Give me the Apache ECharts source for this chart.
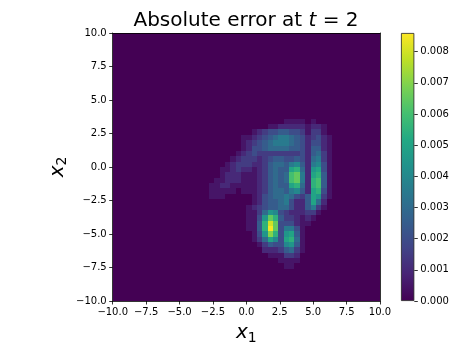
<!DOCTYPE html>
<html>
<head>
<meta charset="utf-8">
<script src="https://cdn.jsdelivr.net/npm/echarts@6/dist/echarts.min.js"></script>
<style>
  html, body { margin: 0; padding: 0; background: #fff; }
  #chart { width: 473px; height: 355px; }
</style>
</head>
<body>
<div id="chart"></div>
<script>
// tick labels
const axisTicks = [-10, -7.5, -5, -2.5, 0, 2.5, 5, 7.5, 10];
const colorbarTicks = [0, 0.001, 0.002, 0.003, 0.004, 0.005, 0.006, 0.007, 0.008];
const errorMax = 0.0086;

// the field is a 50x50 grid of 0.4 cells on [-10,10]^2, zero everywhere
// except the patch below
const cellSize = 0.4;
const domainMin = -10;
const cellsPerSide = 50;
const patchLeft = -3.2;   // left edge of first patch column
const patchTop = 3.6;     // top edge of first patch row
const levelStep = 0.0005; // one level = 0.0005
const levels = '0123456789abcdefgh';
const patchRows = [
  '0000000000000001111010000',
  '0000000000001122222122100',
  '0000000001234455443133100',
  '0000000112345677654234210',
  '0000000123456777654244210',
  '0000000124456666554255210',
  '0000001234333333334256310',
  '0000012333234554454267310',
  '0000123332235665785278410',
  '0001123221235655ab629a410',
  '0001222111235656cd72ab510',
  '0011222111235656cd72bc510',
  '0112211111235655ab62bc510',
  '01111101112356657852ab410',
  '01110000012456676435a9310',
  '00000000012455674225a6200',
  '0000000012345566422573100',
  '0000000011369843222331000',
  '000000001149db53321210000',
  '00000000115bgd44421100000',
  '00000000115bhd47741000000',
  '000000000149eb49a51000000',
  '000000000136a84ab61000000',
  '0000000000135448951000000',
  '0000000000022235631000000',
  '0000000000001113320000000',
  '0000000000000011110000000',
  '0000000000000001100000000'
];

const viridis = ['#440154', '#482475', '#414487', '#355f8d', '#2a788e', '#21918c',
  '#22a884', '#44bf70', '#7ad151', '#bddf26', '#fde725'];

const cells = [];
for (let i = 0; i < cellsPerSide; i++) {
  for (let j = 0; j < cellsPerSide; j++) {
    const x0 = domainMin + i * cellSize;
    const y0 = domainMin + j * cellSize;
    const col = Math.round((x0 - patchLeft) / cellSize);
    const row = Math.round((patchTop - cellSize - y0) / cellSize);
    let v = 0;
    if (row >= 0 && row < patchRows.length && col >= 0 && col < patchRows[row].length) {
      v = levels.indexOf(patchRows[row][col]) * levelStep;
    }
    cells.push([x0, y0, v]);
  }
}

const font = 'DejaVu Sans';
const minus = v => String(v).replace('-', '\u2212');
const lineStyle = { color: '#000', width: 0.8 };
const nameRich = {
  v: { fontSize: 20, fontStyle: 'italic', fontFamily: font, color: '#000' },
  s: { fontSize: 14, fontFamily: font, color: '#000', padding: [10, 0, 0, 0] }
};

const chart = echarts.init(document.getElementById('chart'));
chart.setOption({
  animation: false,
  title: {
    text: '{a|Absolute error at }{i|t}{a| = 2}',
    left: 241,
    top: 6,
    textAlign: 'center',
    textStyle: {
      fontWeight: 'normal',
      rich: {
        a: { fontSize: 20, fontFamily: font, fontWeight: 'normal', color: '#000' },
        i: { fontSize: 20, fontFamily: font, fontWeight: 'normal', fontStyle: 'italic', color: '#000' }
      }
    }
  },
  grid: [
    { left: 112.7, top: 33, width: 267.3, height: 268 },
    { left: 401, top: 33, width: 13.3, height: 268 }
  ],
  visualMap: {
    type: 'continuous',
    show: false,
    seriesIndex: 0,
    dimension: 2,
    min: 0,
    max: errorMax,
    inRange: { color: viridis }
  },
  xAxis: [
    {
      type: 'value', gridIndex: 0, min: -10, max: 10, interval: 2.5, z: 5,
      axisLine: { show: true, onZero: false, lineStyle },
      axisTick: { show: true, inside: false, length: 3.5, lineStyle },
      axisLabel: { fontSize: 10, fontFamily: font, color: '#000', margin: 6,
        formatter: v => minus(v.toFixed(1)) },
      splitLine: { show: false },
      name: '{v|x}{s|1}', nameLocation: 'middle', nameGap: 20,
      nameTextStyle: { rich: nameRich }
    },
    {
      type: 'value', gridIndex: 0, min: -10, max: 10, position: 'top', z: 5,
      axisLine: { show: true, onZero: false, lineStyle },
      axisTick: { show: false }, axisLabel: { show: false }, splitLine: { show: false }
    },
    {
      type: 'category', gridIndex: 1, data: ['cb'], show: false
    }
  ],
  yAxis: [
    {
      type: 'value', gridIndex: 0, min: -10, max: 10, interval: 2.5, z: 5,
      axisLine: { show: true, onZero: false, lineStyle },
      axisTick: { show: true, inside: false, length: 3.5, lineStyle },
      axisLabel: { fontSize: 10, fontFamily: font, color: '#000', margin: 6,
        formatter: v => minus(v.toFixed(1)) },
      splitLine: { show: false },
      name: '{v|x}{s|2}', nameLocation: 'middle', nameGap: 43, nameRotate: 90,
      nameMoveOverlap: false,
      nameTextStyle: { rich: nameRich }
    },
    {
      type: 'value', gridIndex: 0, min: -10, max: 10, position: 'right', z: 5,
      axisLine: { show: true, onZero: false, lineStyle },
      axisTick: { show: false }, axisLabel: { show: false }, splitLine: { show: false }
    },
    {
      type: 'value', gridIndex: 1, min: 0, max: errorMax, position: 'right',
      axisLine: { show: false },
      axisTick: { show: true, inside: false, length: 3.5, lineStyle, customValues: colorbarTicks },
      axisLabel: { fontSize: 10, fontFamily: font, color: '#000', margin: 6,
        customValues: colorbarTicks, formatter: v => v.toFixed(3) },
      splitLine: { show: false }
    }
  ],
  series: [
    {
      type: 'custom',
      xAxisIndex: 0,
      yAxisIndex: 0,
      data: cells,
      encode: { x: 0, y: 1 },
      silent: true,
      renderItem: (params, api) => {
        const x0 = api.value(0), y0 = api.value(1);
        const p1 = api.coord([x0, y0 + cellSize]);
        const p2 = api.coord([x0 + cellSize, y0]);
        const l = Math.round(p1[0]), t = Math.round(p1[1]);
        return {
          type: 'rect',
          shape: { x: l, y: t, width: Math.round(p2[0]) - l, height: Math.round(p2[1]) - t },
          style: { fill: api.visual('color') }
        };
      }
    },
    {
      type: 'bar',
      xAxisIndex: 2,
      yAxisIndex: 2,
      data: [errorMax],
      barWidth: '100%',
      silent: true,
      itemStyle: {
        color: new echarts.graphic.LinearGradient(0, 1, 0, 0,
          viridis.map((c, i) => ({ offset: i / (viridis.length - 1), color: c }))),
        borderColor: '#222',
        borderWidth: 0.8
      }
    }
  ]
});
</script>
</body>
</html>
